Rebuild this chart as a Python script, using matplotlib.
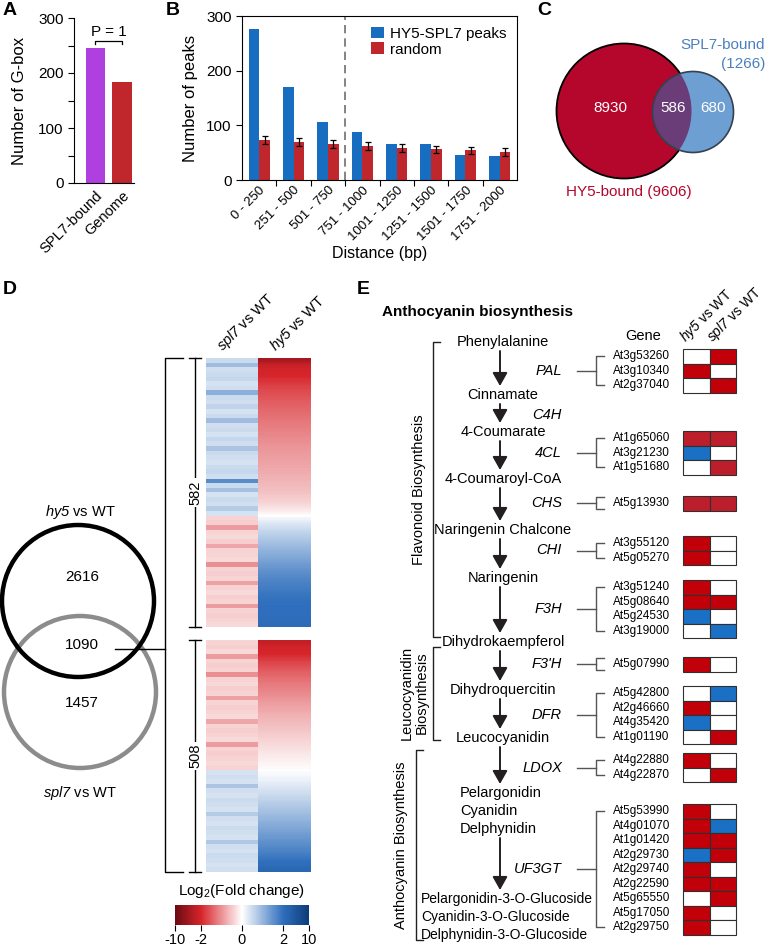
import numpy as np
import matplotlib
matplotlib.use('Agg')
import matplotlib.pyplot as plt
from matplotlib.patches import Circle, Rectangle
from matplotlib.colors import LinearSegmentedColormap, FuncNorm
from matplotlib.cm import ScalarMappable

plt.rcParams['font.family'] = ['Liberation Sans', 'DejaVu Sans']
# math text is only used for italic gene names, so make digits italic too
plt.rcParams['mathtext.fontset'] = 'custom'
plt.rcParams['mathtext.rm'] = 'Liberation Sans:italic'
plt.rcParams['mathtext.it'] = 'Liberation Sans:italic'
plt.rcParams['mathtext.sf'] = 'Liberation Sans'
plt.rcParams['axes.unicode_minus'] = False

# ---- data ----
# A: G-box counts
gbox_labels = ['SPL7-bound', 'Genome']
gbox_counts = [246, 183]

# B: peak distance distribution
dist_labels = ['0 - 250', '251 - 500', '501 - 750', '751 - 1000',
               '1001 - 1250', '1251 - 1500', '1501 - 1750', '1751 - 2000']
peaks = [276, 170, 106, 87, 65, 65, 45, 44]
random_peaks = [73, 70, 66, 62, 59, 56, 54, 51]
random_err = [8, 7, 7, 7, 7, 7, 7, 7]

# C: overlap of bound genes
hy5_only, both_bound, spl7_only = 8930, 586, 680
hy5_total, spl7_total = 9606, 1266

# D: DEG overlap and log2 fold change heatmap
deg_hy5_only, deg_both, deg_spl7_only = 2616, 1090, 1457
n_top, n_bottom = 582, 508
hy5_top = [-5.5, -3.0, -2.3, -2.05, -1.9, -1.8, -1.7, -1.62, -1.55, -1.48,
           -1.42, -1.36, -1.3, -1.25, -1.2, -1.15, -1.1, -1.05, -1.0, -0.96,
           -0.92, -0.88, -0.84, -0.8, -0.76, -0.72, -0.68, -0.63, -0.58, -0.52,
           -0.45, -0.36, -0.25, -0.1,
           0.12, 0.3, 0.45, 0.58, 0.7, 0.82, 0.94, 1.05, 1.16, 1.27,
           1.38, 1.48, 1.58, 1.66, 1.74, 1.8, 1.86, 1.92, 1.97, 2.0,
           2.05, 2.1, 2.2, 2.5]
spl7_top = [0.5, 0.9, 0.45, 0.5, 0.55, 0.4, 0.45, 1.1, 0.5, 0.45,
            0.6, 0.4, 0.5, 0.9, 0.45, 0.5, 0.4, 0.55, 0.45, 0.8,
            0.5, 0.45, 0.4, 0.5, 0.55, 0.45, 1.6, 0.5, 0.85, 0.4,
            0.5, 0.45, 0.7, 0.4,
            -0.4, -0.45, -0.9, -0.4, -0.35, -0.45, -0.8, -0.4, -0.4, -0.35,
            -1.0, -0.4, -0.45, -0.4, -0.85, -0.4, -0.35, -0.45, -0.4, -0.9,
            -0.4, -0.45, -0.4, -0.35]
hy5_bottom = [-3.5, -2.4, -2.1, -1.9, -1.75, -1.62, -1.5, -1.4, -1.3, -1.22,
              -1.14, -1.06, -0.98, -0.9, -0.83, -0.76, -0.7, -0.64, -0.58, -0.52,
              -0.46, -0.4, -0.34, -0.28, -0.22, -0.16, -0.1, -0.05,
              0.05, 0.12, 0.22, 0.32, 0.42, 0.52, 0.62, 0.72, 0.82, 0.92,
              1.02, 1.12, 1.22, 1.32, 1.42, 1.52, 1.62, 1.72, 1.82, 1.95,
              2.2, 3.0]
spl7_bottom = [-0.4, -0.45, -0.35, -0.9, -0.4, -0.45, -0.4, -1.0, -0.4, -0.35,
               -0.45, -0.4, -0.85, -0.4, -0.45, -0.4, -0.35, -0.8, -0.4, -0.45,
               -0.4, -0.35, -0.9, -0.4, -0.45, -0.4, -0.35, -0.4,
               0.4, 0.45, 0.4, 0.8, 0.45, 0.4, 0.5, 0.45, 0.4, 0.7,
               0.45, 0.4, 0.5, 0.45, 0.4, 0.75, 0.45, 0.4, 0.5, 0.45,
               0.4, 0.45]
cbar_ticks = [-10, -2, 0, 2, 10]

# E: anthocyanin pathway genes (1 = red, 2 = dark red, -1 = blue, 0 = none)
compounds = ['Phenylalanine', 'Cinnamate', '4-Coumarate', '4-Coumaroyl-CoA',
             'Naringenin Chalcone', 'Naringenin', 'Dihydrokaempferol',
             'Dihydroquercitin', 'Leucocyanidin',
             'Pelargonidin\nCyanidin\nDelphynidin',
             'Pelargonidin-3-O-Glucoside\nCyanidin-3-O-Glucoside\nDelphynidin-3-O-Glucoside']
e_enzymes = ['PAL', '4CL', 'CHS', 'CHI', 'F3H', "F3'H", 'DFR', 'LDOX', 'UF3GT']
e_genes = [['At3g53260', 'At3g10340', 'At2g37040'],
           ['At1g65060', 'At3g21230', 'At1g51680'],
           ['At5g13930'],
           ['At3g55120', 'At5g05270'],
           ['At3g51240', 'At5g08640', 'At5g24530', 'At3g19000'],
           ['At5g07990'],
           ['At5g42800', 'At2g46660', 'At4g35420', 'At1g01190'],
           ['At4g22880', 'At4g22870'],
           ['At5g53990', 'At4g01070', 'At1g01420', 'At2g29730', 'At2g29740',
            'At2g22590', 'At5g65550', 'At5g17050', 'At2g29750']]
e_hy5 = [[0, 1, 0], [2, -1, 0], [2], [1, 1], [1, 1, -1, 0], [1],
         [0, 1, -1, 0], [1, 0], [1, 1, 1, -1, 1, 1, 0, 1, 1]]
e_spl7 = [[1, 0, 1], [2, 0, 2], [2], [0, 0], [0, 1, 0, -1], [0],
          [-1, 0, 0, 1], [0, 1], [0, -1, 1, 1, 0, 1, 1, 0, 0]]

# ---- figure ----
W, H = 774, 948
fig = plt.figure(figsize=(W / 100, H / 100), dpi=100)


def px(x0, y0, x1, y1):
    return [x0 / W, 1 - y1 / H, (x1 - x0) / W, (y1 - y0) / H]


ov = fig.add_axes([0, 0, 1, 1])
ov.axis('off')

purple = '#b03fe0'
red = '#c0272d'
blue = '#176dbf'

# Panel A
axA = fig.add_axes(px(74, 18, 134, 183))
axA.bar([0, 1], gbox_counts, width=0.72, color=[purple, red])
axA.set_xlim(-0.8, 1.45)
axA.set_ylim(0, 300)
axA.set_yticks([0, 100, 200, 300])
axA.set_yticks([50, 150, 250], minor=True)
axA.set_xticks([0, 1])
axA.set_xticklabels(gbox_labels, rotation=45, ha='right', rotation_mode='anchor', fontsize=10.5)
axA.tick_params(axis='y', which='both', direction='out', length=4, width=0.8, labelsize=11)
axA.tick_params(axis='x', length=0, pad=4)
for s in ['top', 'right']:
    axA.spines[s].set_visible(False)
axA.set_ylabel('Number of G-box', fontsize=12, labelpad=8)
axA.plot([0, 0, 1, 1], [252, 258, 258, 252], color='k', lw=0.9)
axA.text(0.5, 262, 'P = 1', ha='center', va='bottom', fontsize=11)

# Panel B
axB = fig.add_axes(px(242, 16, 517, 180))
x = np.arange(len(peaks))
axB.bar(x - 0.155, peaks, 0.31, color=blue, label='HY5-SPL7 peaks')
axB.bar(x + 0.155, random_peaks, 0.31, color=red, label='random',
        yerr=random_err, capsize=2,
        error_kw=dict(ecolor='k', elinewidth=0.9, capthick=0.9))
axB.axvline(2.5, color='#707070', ls=(0, (5, 3)), lw=1.2)
axB.set_xlim(-0.5, 7.5)
axB.set_ylim(0, 300)
axB.set_yticks([0, 100, 200, 300])
axB.set_xticks(x[:-1] + 0.5)
axB.set_xticklabels([])
axB.set_xticks(x, minor=True)
axB.set_xticklabels(dist_labels, minor=True, rotation=45, ha='right',
                    rotation_mode='anchor', fontsize=9.5)
axB.tick_params(axis='x', which='major', direction='out', length=4, width=0.8)
axB.tick_params(axis='x', which='minor', length=0, pad=3)
axB.tick_params(axis='y', direction='out', length=4, width=0.8, labelsize=11)
axB.set_ylabel('Number of peaks', fontsize=12, labelpad=6)
axB.set_xlabel('Distance (bp)', fontsize=11.5, labelpad=2)
axB.legend(loc='upper right', bbox_to_anchor=(1.0, 1.0), frameon=False, fontsize=11,
           handlelength=0.8, handleheight=0.8, handletextpad=0.4, labelspacing=0.1,
           borderaxespad=0.3)

# panel letters
for lab, lx, ly in [('A', 3, 10), ('B', 166, 10), ('C', 537, 10), ('D', 3, 290), ('E', 357, 290)]:
    ov.text(lx, ly, lab, fontsize=14, fontweight='bold', ha='left', va='center')

# Panel C
c_red = Circle((624, 111), 67.5, fc='#b5062c', ec='k', lw=1.3)
ov.add_patch(c_red)
ov.add_patch(Circle((693, 112), 40.5, fc='#6e9fd2', ec='none'))
ov_patch = Circle((693, 112), 40.5, fc='#6a3c78', ec='none')
ov.add_patch(ov_patch)
ov_patch.set_clip_path(c_red)
ov.add_patch(Circle((693, 112), 40.5, fc='none', ec='#34414f', lw=1.2))
ov.text(610, 108, str(hy5_only), color='white', fontsize=11, ha='center', va='center')
ov.text(673, 108, str(both_bound), color='white', fontsize=11, ha='center', va='center')
ov.text(713, 108, str(spl7_only), color='white', fontsize=11, ha='center', va='center')
ov.text(765, 45, 'SPL7-bound', color='#4a80bf', fontsize=11, ha='right', va='center')
ov.text(765, 64, '(%d)' % spl7_total, color='#4a80bf', fontsize=11, ha='right', va='center')
ov.text(629, 192, 'HY5-bound (%d)' % hy5_total, color='#b5062c', fontsize=11,
        ha='center', va='center')

# Panel D: Venn
ov.add_patch(Circle((80, 692), 76, fill=False, ec='#8c8c8c', lw=3.2))
ov.add_patch(Circle((78, 601), 76, fill=False, ec='k', lw=3.2))
ov.text(80, 512, '$hy5$ vs WT', fontsize=10.5, ha='center', va='center')
ov.text(82, 577, str(deg_hy5_only), fontsize=11, ha='center', va='center')
ov.text(82, 645, str(deg_both), fontsize=11, ha='center', va='center')
ov.text(82, 703, str(deg_spl7_only), fontsize=11, ha='center', va='center')
ov.text(80, 793, '$spl7$ vs WT', fontsize=10.5, ha='center', va='center')
ov.plot([115, 165], [649, 649], color='k', lw=1)
ov.plot([183, 165, 165, 183], [358, 358, 872, 872], color='k', lw=1)

# Panel D: heatmap
cmap = LinearSegmentedColormap.from_list(
    'fc', [(0, '#6b0a12'), (0.194, '#d7252b'), (0.5, '#ffffff'),
           (0.806, '#2f6fbd'), (1, '#0e3c78')])
pos = [0, 0.194, 0.5, 0.806, 1]
norm = FuncNorm((lambda v: np.interp(v, cbar_ticks, pos),
                 lambda p: np.interp(p, pos, cbar_ticks)), vmin=-10, vmax=10)

blocks = [(spl7_top, hy5_top, 358, 627, n_top), (spl7_bottom, hy5_bottom, 640, 872, n_bottom)]
for sp, hy, y0, y1, n in blocks:
    ov.imshow(np.array(sp)[:, None], extent=[206, 258, y1, y0], cmap=cmap, norm=norm,
              aspect='auto', interpolation='nearest')
    ov.imshow(np.array(hy)[:, None], extent=[258, 311, y1, y0], cmap=cmap, norm=norm,
              aspect='auto', interpolation='bilinear')
    ov.plot([189, 201], [y0, y0], color='k', lw=1)
    ov.plot([189, 201], [y1, y1], color='k', lw=1)
    ov.plot([195, 195], [y0, y1], color='k', lw=1)
    ov.text(195, (y0 + y1) / 2, str(n), rotation=90, fontsize=10.5, ha='center', va='center',
            bbox=dict(fc='white', ec='none', pad=1.5))
ov.text(226, 355, '$spl7$ vs WT', rotation=45, rotation_mode='anchor',
        ha='left', va='bottom', fontsize=10.5)
ov.text(279, 355, '$hy5$ vs WT', rotation=45, rotation_mode='anchor',
        ha='left', va='bottom', fontsize=10.5)

# colorbar
cax = fig.add_axes(px(175, 905, 309, 925))
cb = fig.colorbar(ScalarMappable(norm=norm, cmap=cmap), cax=cax, orientation='horizontal',
                  ticks=cbar_ticks)
cb.outline.set_visible(False)
cax.tick_params(length=4, width=0.8, labelsize=10.5, pad=2)
cax.set_xticklabels([str(t) for t in cbar_ticks])
ov.text(242, 891, 'Log$_\\mathsf{2}$(Fold change)', fontsize=11, ha='center', va='center')

# Panel E
ov.text(382, 312, 'Anthocyanin biosynthesis', fontsize=11, fontweight='bold',
        ha='left', va='center')
ov.text(643, 336, 'Gene', fontsize=10.5, ha='center', va='center')
ov.text(689, 346, '$hy5$ vs WT', rotation=45, rotation_mode='anchor',
        ha='left', va='bottom', fontsize=10)
ov.text(716, 346, '$spl7$ vs WT', rotation=45, rotation_mode='anchor',
        ha='left', va='bottom', fontsize=10)

compound_y = [342, 395, 432, 479, 530, 578, 642, 690, 738, 793, 899]
line_h = 18
arrow_x = 500
dark = '#231f20'
for i, (name, cy) in enumerate(zip(compounds, compound_y)):
    lines = name.split('\n')
    if len(lines) == 1:
        ov.text(503, cy, name, fontsize=10.5, ha='center', va='center')
    else:
        lx, fs = (460, 10.5) if i == 9 else (421, 10)
        for k, ln in enumerate(lines):
            ov.text(lx, cy + k * line_h, ln, fontsize=fs, ha='left', va='center')
    if i < len(compounds) - 1:
        bottom = cy + (len(lines) - 1) * line_h + 9
        top = compound_y[i + 1] - 9
        ov.annotate('', xy=(arrow_x, top), xytext=(arrow_x, bottom),
                    arrowprops=dict(arrowstyle='-|>,head_length=0.8,head_width=0.45',
                                    color=dark, lw=1.4, shrinkA=0, shrinkB=0))
ov.text(562, 415, 'C4H', fontsize=10.5, style='italic', ha='right', va='center')

cell_color = {1: '#c2000a', 2: '#bd1e2b', -1: '#1a70c4', 0: 'white'}
group_top = [349, 431, 496, 536, 580, 657, 686, 753, 804]
row_h = 14.5
for enz, genes, hv, sv, gt in zip(e_enzymes, e_genes, e_hy5, e_spl7, group_top):
    n = len(genes)
    centers = [gt + (k + 0.5) * row_h for k in range(n)]
    mid = gt + n * row_h / 2
    ov.text(562, mid, enz, fontsize=10.5, style='italic', ha='right', va='center')
    ov.plot([577, 596], [mid, mid], color='#555555', lw=1)
    b0, b1 = (centers[0], centers[-1]) if n > 1 else (mid - 6, mid + 6)
    ov.plot([604, 596, 596, 604], [b0, b0, b1, b1], color='#555555', lw=1)
    for k, g in enumerate(genes):
        ov.text(613, centers[k], g, fontsize=8.5, ha='left', va='center')
        for j, v in enumerate([hv[k], sv[k]]):
            ov.add_patch(Rectangle((683 + j * 26.5, gt + k * row_h), 26.5, row_h,
                                   fc=cell_color[v], ec='#303030', lw=0.8))

# pathway section brackets
ov.plot([440, 433, 433, 440], [342, 342, 637, 637], color=dark, lw=1)
ov.text(419, 490, 'Flavonoid Biosynthesis', rotation=90, fontsize=10.5, ha='center', va='center')
ov.plot([440, 433, 433, 440], [647, 647, 740, 740], color=dark, lw=1)
ov.text(414, 693, 'Leucocyanidin\nBiosynthesis', rotation=90, fontsize=10.5,
        ha='center', va='center', linespacing=1.1, multialignment='center')
ov.plot([423, 416, 416, 423], [750, 750, 940, 940], color=dark, lw=1)
ov.text(401, 845, 'Anthocyanin Biosynthesis', rotation=90, fontsize=10.5, ha='center', va='center')

ov.set_xlim(0, W)
ov.set_ylim(H, 0)

fig.savefig('out.png', dpi=100)
